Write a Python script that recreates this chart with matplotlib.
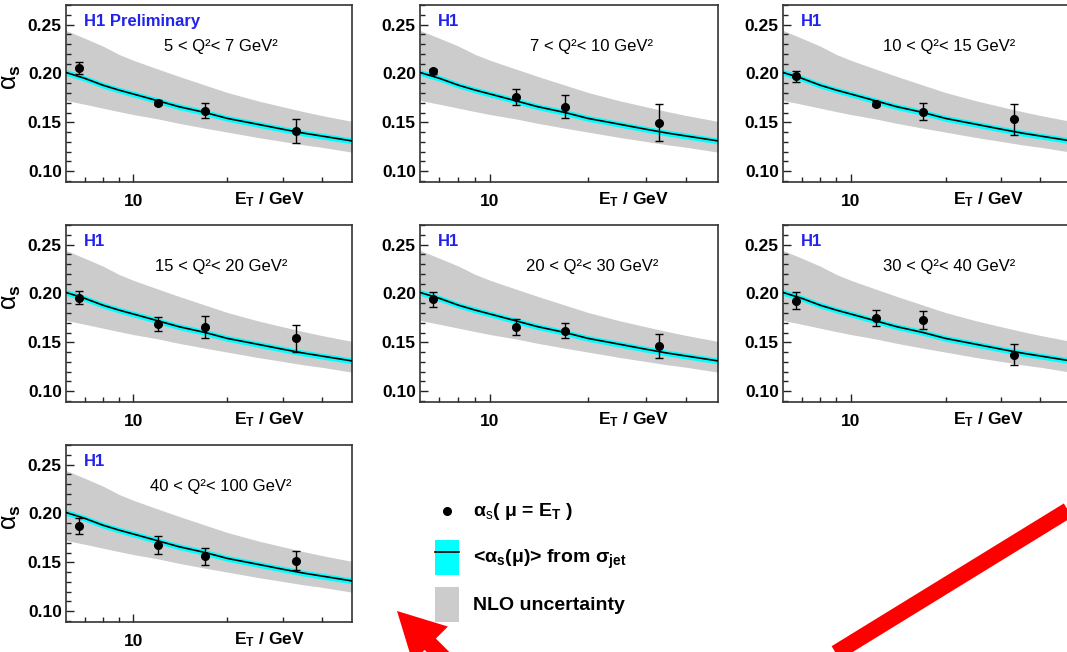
import matplotlib
matplotlib.use('Agg')
import matplotlib.pyplot as plt
from matplotlib.patches import Patch, FancyArrow
from matplotlib.lines import Line2D
from matplotlib.ticker import MultipleLocator, FixedLocator, NullFormatter, FormatStrFormatter

plt.rcParams['font.family'] = ['Liberation Sans', 'DejaVu Sans']
plt.rcParams['mathtext.fontset'] = 'custom'
plt.rcParams['mathtext.rm'] = 'Liberation Sans'
plt.rcParams['mathtext.it'] = 'Liberation Sans:italic'
plt.rcParams['mathtext.bf'] = 'Liberation Sans:bold'

# Q^2 bins, one panel each
q2_bins = ['5 < Q²< 7 GeV²', '7 < Q²< 10 GeV²', '10 < Q²< 15 GeV²',
           '15 < Q²< 20 GeV²', '20 < Q²< 30 GeV²', '30 < Q²< 40 GeV²',
           '40 < Q²< 100 GeV²']
panel_tags = ['H1 Preliminary', 'H1', 'H1', 'H1', 'H1', 'H1', 'H1']

# measured alpha_s(mu = E_T) per bin
et_points = [6.7, 12.0, 17.0, 33.0]
alpha_points = [
    [0.2055, 0.170, 0.162, 0.141],
    [0.202, 0.176, 0.166, 0.1495],
    [0.197, 0.169, 0.161, 0.153],
    [0.1955, 0.169, 0.1655, 0.154],
    [0.194, 0.166, 0.162, 0.1465],
    [0.1925, 0.175, 0.1727, 0.1375],
    [0.1875, 0.168, 0.156, 0.1517],
]
alpha_errors = [
    [0.006, 0.0025, 0.008, 0.012],
    [0.0025, 0.008, 0.012, 0.019],
    [0.006, 0.0025, 0.009, 0.016],
    [0.0065, 0.007, 0.011, 0.014],
    [0.0075, 0.008, 0.0077, 0.012],
    [0.0085, 0.0085, 0.009, 0.0105],
    [0.008, 0.009, 0.0085, 0.010],
]

# <alpha_s(mu)> from sigma_jet and the NLO uncertainty band (same in every panel)
et_curve = [6.1, 7, 8, 9, 10, 12, 14, 17, 20, 25, 30, 35, 40, 50]
alpha_curve = [0.201, 0.195, 0.188, 0.183, 0.179, 0.172, 0.166, 0.160,
               0.154, 0.148, 0.143, 0.139, 0.136, 0.131]
alpha_fit_err = 0.003
nlo_upper = [0.244, 0.236, 0.228, 0.2195, 0.2135, 0.2045, 0.197, 0.188,
             0.1805, 0.172, 0.166, 0.161, 0.157, 0.151]
nlo_lower = [0.1724, 0.1685, 0.1645, 0.161, 0.158, 0.1535, 0.149, 0.144,
             0.140, 0.1345, 0.1305, 0.127, 0.1245, 0.1195]

W, H = 1067, 652
fig = plt.figure(figsize=(W / 100, H / 100), dpi=100)

col_left = [66, 420, 783]
col_width = [286, 298, 288]
label_center = [155, 172, 166]   # px from left spine to the Q^2 text centre
row_top = [5, 225, 445]
ax_h = 177

fit_lo = [a - alpha_fit_err for a in alpha_curve]
fit_hi = [a + alpha_fit_err for a in alpha_curve]

for i, label in enumerate(q2_bins):
    r, c = divmod(i, 3)
    ax = fig.add_axes([col_left[c] / W, 1 - (row_top[r] + ax_h) / H,
                       col_width[c] / W, ax_h / H])
    ax.fill_between(et_curve, nlo_lower, nlo_upper, color='#cccccc', lw=0, zorder=1)
    ax.fill_between(et_curve, fit_lo, fit_hi, color='#00ffff', lw=0, zorder=2)
    ax.plot(et_curve, alpha_curve, color='black', lw=1.2, zorder=3)
    ax.errorbar(et_points, alpha_points[i], yerr=alpha_errors[i], fmt='none',
                ecolor='black', elinewidth=1.0, capsize=3, capthick=1.0, zorder=4)
    ax.plot(et_points, alpha_points[i], 'o', color='black', ms=5.5, zorder=5)

    ax.set_xscale('log')
    ax.set_xlim(6.1, 50)
    ax.set_ylim(0.089, 0.27)
    ax.xaxis.set_major_locator(FixedLocator([10]))
    ax.xaxis.set_major_formatter(FormatStrFormatter('%d'))
    ax.xaxis.set_minor_locator(FixedLocator([7, 8, 9, 20, 30, 40]))
    ax.xaxis.set_minor_formatter(NullFormatter())
    ax.yaxis.set_major_locator(FixedLocator([0.10, 0.15, 0.20, 0.25]))
    ax.yaxis.set_major_formatter(FormatStrFormatter('%.2f'))
    ax.yaxis.set_minor_locator(MultipleLocator(0.01))
    ax.tick_params(which='both', direction='in', top=False, right=False,
                   color='#222222', width=1.0)
    ax.tick_params(which='major', length=6, pad=3, labelsize=12.5)
    ax.tick_params(which='minor', length=3.5)
    ax.tick_params(axis='x', which='major', pad=9)
    for lab in ax.get_xticklabels() + ax.get_yticklabels():
        lab.set_fontweight('bold')
    for s in ax.spines.values():
        s.set_linewidth(1.2)
        s.set_color('#333333')

    ax.text(0.835, -0.125, r'E$_\mathbf{T}$ / GeV', transform=ax.transAxes,
            ha='right', va='baseline', fontsize=12.5, fontweight='bold')
    ax.text(18 / col_width[c], 0.905, panel_tags[i], transform=ax.transAxes,
            ha='left', va='center', fontsize=12, fontweight='bold', color='#2222ee')
    ax.text(label_center[c] / col_width[c], 0.763, label, transform=ax.transAxes,
            ha='center', va='center', fontsize=12)
    if c == 0:
        ax.text(-55 / col_width[c], 0.59, r'α$_\mathbf{s}$', transform=ax.transAxes,
                rotation=90, ha='center', va='center', fontsize=18)

# legend in the empty corner
h_pts = Line2D([], [], marker='o', color='black', linestyle='none', markersize=5.5)
h_fit = (Patch(facecolor='#00ffff', edgecolor='none'), Line2D([], [], color='black', lw=1.2))
h_nlo = Patch(facecolor='#cccccc', edgecolor='none')
leg = fig.legend([h_pts, h_fit, h_nlo],
                 [r'α$_\mathrm{s}$( μ = E$_\mathbf{T}$ )',
                  r'<α$_\mathbf{s}$(μ)> from σ$_\mathbf{jet}$',
                  'NLO uncertainty'],
                 loc='upper left', bbox_to_anchor=(435 / W, 1 - 493 / H),
                 frameon=False, prop={'size': 14, 'weight': 'bold'},
                 handlelength=1.25, handleheight=2.39, handletextpad=0.7,
                 labelspacing=0.61, borderpad=0, borderaxespad=0)
# centre the bullet in its (tall) handle box
dot = leg.legend_handles[0]
dot.set_ydata([y - 4.2 for y in dot.get_ydata()])

# red annotation arrows drawn over everything, in pixel units
ov = fig.add_axes([0, 0, 1, 1], zorder=10)
ov.set_xlim(0, W)
ov.set_ylim(H, 0)
ov.axis('off')
ov.add_patch(FancyArrow(540, 754, -143, -143, width=16, head_width=50,
                        head_length=47, length_includes_head=True,
                        color='red', lw=0))
ov.plot([800, 1100], [675, 490.6], color='red', lw=11.5, solid_capstyle='butt')

fig.savefig('out.png', dpi=100)
